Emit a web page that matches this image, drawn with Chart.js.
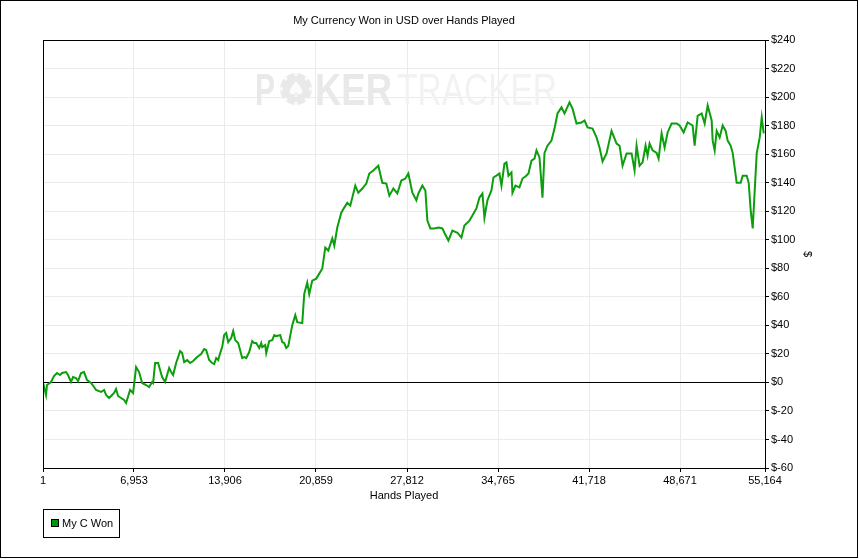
<!DOCTYPE html>
<html>
<head>
<meta charset="utf-8">
<script src="https://cdn.jsdelivr.net/npm/chart.js@4.4.1/dist/chart.umd.min.js"></script>
<style>
  html, body { margin: 0; padding: 0; background: #fff; }
  #wrap { width: 859px; height: 559px; }
</style>
</head>
<body>
<div id="wrap"><canvas id="chart" width="859" height="559"></canvas></div>
<script>
'use strict';

// hands played (x) and cumulative winnings in USD (y)
const hands = [
    1, 230, 307, 613, 842, 1072, 1301, 1454, 1760, 1913, 2142, 2295, 2525, 2678, 2907, 3137,
    3366, 3672, 3901, 4054, 4437, 4666, 4819, 5049, 5278, 5431, 5584, 5737, 5966, 6196, 6349,
    6655, 6884, 7114, 7343, 7573, 7878, 8108, 8337, 8414, 8567, 8796, 9102, 9332, 9485, 9638,
    9790, 9943, 10173, 10479, 10632, 10785, 11014, 11244, 11473, 11779, 12085, 12314, 12467,
    12697, 12926, 13079, 13232, 13385, 13538, 13691, 13844, 13997, 14150, 14379, 14532, 14685,
    14915, 15221, 15374, 15527, 15756, 15985, 16138, 16291, 16521, 16674, 16750, 16980, 17056,
    17286, 17515, 17668, 17821, 18127, 18280, 18433, 18586, 18739, 19045, 19274, 19427, 19810,
    19961, 20190, 20343, 20573, 20879, 21108, 21338, 21567, 21797, 22103, 22256, 22485, 22791,
    23020, 23250, 23479, 23632, 23862, 24091, 24397, 24703, 24932, 25238, 25621, 25927, 26233,
    26462, 26768, 27074, 27380, 27686, 27915, 28221, 28527, 28680, 28986, 29215, 29368, 29598,
    29904, 30210, 30516, 30669, 30975, 31281, 31663, 31969, 32198, 32581, 32810, 33116, 33345,
    33575, 33728, 33957, 34263, 34416, 34645, 34875, 35028, 35257, 35410, 35563, 35793, 35869,
    36099, 36404, 36634, 36863, 37093, 37322, 37552, 37705, 37934, 38164, 38317, 38546, 38852,
    39081, 39311, 39617, 39846, 40228, 40458, 40764, 41146, 41376, 41605, 41987, 42293, 42522,
    42752, 43058, 43440, 43823, 44052, 44281, 44587, 44970, 45199, 45352, 45582, 45811, 46040,
    46193, 46346, 46576, 46882, 47035, 47264, 47494, 47723, 48029, 48411, 48641, 48947, 49253,
    49635, 49788, 50018, 50324, 50553, 50783, 51089, 51165, 51318, 51471, 51700, 51930, 52159,
    52312, 52542, 52695, 52848, 53001, 53307, 53460, 53766, 53919, 54072, 54225, 54378, 54531,
    54761, 54914, 55067
];
const won = [
    0, -8.8, -1.8, 0.3, 4.5, 6.6, 5.2, 6.6, 7.3, 5.2, 0.3, 3.8, 3.1, 1, 6.6, 7.3,
    1.7, -0.4, -3.2, -5.3, -6.7, -5.3, -8.8, -10.9, -8.8, -7.4, -4.6, -9.5, -10.9, -12.3, -14.4,
    -5.3, -7.4, 10.8, 7.3, -0.4, -1.8, -3.2, 0.3, -0.4, 13.6, 13.6, 3.8, 0.3, 5.2, 10.1,
    7.3, 5.2, 13.6, 22, 20.6, 14.3, 15.7, 13.6, 15, 17.8, 19.9, 23.4, 22.7,
    15.7, 13.6, 12.9, 17.1, 15.7, 20.6, 24.8, 33.2, 34.6, 28.3, 31.1, 36, 29.7,
    27.6, 17.1, 17.8, 17.1, 21.3, 29, 27.6, 27.6, 24.1, 27.6, 24.8, 26.2, 20.6,
    29, 29.7, 33.2, 32.5, 33.2, 28.3, 27.6, 24.1, 25.5, 40.2, 47.2, 42.3, 41.6,
    62, 70, 62, 71.4, 72.8, 76.3, 79.8, 94.6, 92.5, 101, 96, 108.6, 119,
    122.6, 126, 124, 129.6, 138, 133, 136, 139.5, 146.5, 148.6, 152, 140, 139.5,
    131, 136, 132.5, 141.6, 143, 146.5, 133, 127.7, 132.5, 138, 134.6, 113.5, 108,
    108, 108.6, 108, 105, 99.5, 106.5, 105, 101.6, 110, 113.5, 117, 122, 129.6,
    132.5, 115.5, 127.7, 134.6, 143.7, 145, 146.5, 138, 153.5, 154.3, 145, 147.3, 133,
    138, 136.8, 143, 144.4, 146.5, 155.6, 157, 162.7, 157.8, 129.6, 161, 166, 169.6,
    178, 188.6, 193, 188.6, 196.4, 192, 181.6, 182.3, 183.7, 178.8, 178, 171.8, 164.7,
    155, 160.6, 176.4, 167.5, 166, 152, 160.6, 160.6, 148.7, 166, 152, 154.3, 166,
    159, 167.5, 162.7, 161, 157, 174.6, 164.7, 175.3, 181.6, 181.6, 180.2, 175.3, 182.3,
    180.2, 166, 187, 188.6, 181.6, 194.2, 183.7, 169.6, 162.7, 176.4, 171.8, 180.2, 176.4,
    169.6, 166, 161, 150.5, 140, 140, 145, 145, 140, 120.7, 108, 134.6, 160.6,
    171.8, 185.8, 174.6
];

const xTickValues = [1, 6953, 13906, 20859, 27812, 34765, 41718, 48671, 55164];
const yMin = -60;
const yMax = 240;
const yStep = 20;

const chartTitle = 'My Currency Won in USD over Hands Played';
const seriesLabel = 'My C Won';
const xAxisTitle = 'Hands Played';
const yAxisTitle = '$';

const lineColor = '#0c9e0c';
const gridColor = '#ebebeb';
const fontFamily = '"Liberation Sans", Arial, sans-serif';

Chart.defaults.font.family = fontFamily;
Chart.defaults.font.size = 11;
Chart.defaults.color = '#000';

/**
 * Faint product watermark behind the line.
 */
const watermarkPlugin = {
    id: 'watermark',
    beforeDatasetsDraw(chart) {
        const ctx = chart.ctx;
        const base = 105;
        ctx.save();
        ctx.textBaseline = 'alphabetic';
        ctx.textAlign = 'left';
        ctx.fillStyle = '#e9e9e9';
        ctx.font = 'bold 45px ' + fontFamily;
        ctx.fillText('P', 255, base, 20);

        // poker chip in place of the O
        ctx.beginPath();
        ctx.arc(296, 89, 16, 0, Math.PI * 2);
        ctx.fill();
        ctx.strokeStyle = '#fafafa';
        ctx.lineWidth = 3;
        for (let i = 0; i < 8; i++) {
            const a = i * Math.PI / 4;
            ctx.beginPath();
            ctx.arc(296, 89, 14.5, a - 0.12, a + 0.12);
            ctx.stroke();
        }
        ctx.fillStyle = '#fcfcfc';
        ctx.font = '22px "DejaVu Sans", sans-serif';
        ctx.textAlign = 'center';
        ctx.fillText('\u2660', 296, 97);

        ctx.textAlign = 'left';
        ctx.fillStyle = '#e9e9e9';
        ctx.font = 'bold 45px ' + fontFamily;
        ctx.fillText('KER', 315, base, 77);
        ctx.fillStyle = '#f2f2f2';
        ctx.font = '45px ' + fontFamily;
        ctx.fillText('TRACKER', 397, base, 160);
        ctx.restore();
    }
};

/**
 * Outer frame, plot border and the boxed legend.
 */
const framePlugin = {
    id: 'frame',
    afterDraw(chart) {
        const ctx = chart.ctx;
        const area = chart.chartArea;
        ctx.save();
        ctx.strokeStyle = '#000';
        ctx.lineWidth = 1;
        ctx.strokeRect(0.5, 0.5, chart.width - 2, chart.height - 2);

        const l = Math.round(area.left) + 0.5;
        const t = Math.round(area.top) + 0.5;
        const r = Math.round(area.right) + 0.5;
        const b = Math.round(area.bottom) + 0.5;
        ctx.strokeRect(l, t, r - l, b - t);

        // legend
        const ds = chart.data.datasets[0];
        ctx.strokeRect(43.5, 509.5, 76, 28);
        ctx.fillStyle = '#009a00';
        ctx.fillRect(51.5, 519.5, 7, 7);
        ctx.strokeRect(51.5, 519.5, 7, 7);
        ctx.fillStyle = '#000';
        ctx.font = '11px ' + fontFamily;
        ctx.textBaseline = 'middle';
        ctx.textAlign = 'left';
        ctx.fillText(ds.label, 62, 523.5);
        ctx.restore();
    }
};

const points = hands.map((h, i) => ({ x: h, y: won[i] }));

new Chart(document.getElementById('chart').getContext('2d'), {
    type: 'line',
    data: {
        datasets: [
            {
                label: seriesLabel,
                data: points,
                borderColor: lineColor,
                borderWidth: 2,
                pointRadius: 0,
                tension: 0,
                fill: false,
            },
        ],
    },
    options: {
        responsive: false,
        animation: false,
        devicePixelRatio: 1,
        layout: {
            padding: { left: 43, right: 42, top: 0, bottom: 55 },
        },
        plugins: {
            legend: { display: false },
            tooltip: { enabled: false },
            title: {
                display: true,
                text: chartTitle,
                fullSize: false,
                font: { size: 11, weight: 'normal' },
                color: '#000',
                padding: { top: 14, bottom: 13 },
            },
        },
        scales: {
            x: {
                type: 'linear',
                min: xTickValues[0],
                max: xTickValues[xTickValues.length - 1],
                afterBuildTicks(scale) {
                    scale.ticks = xTickValues.map((v) => ({ value: v }));
                },
                afterFit(scale) {
                    scale.height = 36;
                },
                ticks: {
                    autoSkip: false,
                    maxRotation: 0,
                    padding: 2,
                    color: '#000',
                    callback: (v) => Number(v).toLocaleString('en-US'),
                },
                grid: {
                    color: gridColor,
                    tickColor: '#000',
                    tickLength: 4,
                },
                border: { color: '#000' },
                title: {
                    display: true,
                    text: xAxisTitle,
                    color: '#000',
                    padding: { top: 0, bottom: 1 },
                },
            },
            y: {
                position: 'right',
                min: yMin,
                max: yMax,
                afterFit(scale) {
                    scale.width = 52;
                },
                ticks: {
                    stepSize: yStep,
                    padding: 2,
                    color: '#000',
                    callback: (v) => (v < 0 ? '$-' + Math.abs(v) : '$' + v),
                },
                grid: {
                    color: (c) => (c.tick && c.tick.value === 0 ? '#000' : gridColor),
                    tickColor: '#000',
                    tickLength: 4,
                },
                border: { color: '#000' },
                title: {
                    display: true,
                    text: yAxisTitle,
                    color: '#000',
                    padding: { top: 3, bottom: 0 },
                },
            },
        },
    },
    plugins: [watermarkPlugin, framePlugin],
});
</script>
</body>
</html>
